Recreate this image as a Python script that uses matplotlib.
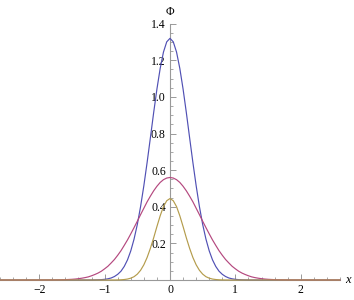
import numpy as np
import matplotlib
matplotlib.use("Agg")
import matplotlib.pyplot as plt
from matplotlib.ticker import MultipleLocator, FixedLocator

# values (right half, curves are symmetric about x = 0)
x_half = [0.0, 0.05, 0.10, 0.15, 0.20, 0.25, 0.30, 0.35, 0.40, 0.45, 0.50,
          0.55, 0.60, 0.65, 0.70, 0.75, 0.80, 0.85, 0.90, 0.95, 1.00,
          1.05, 1.10, 1.15, 1.20, 1.25, 1.30, 1.35, 1.40, 1.45, 1.50,
          1.60, 1.70, 1.80, 1.90, 2.00, 2.20, 2.40, 2.60]

phi_blue = [1.320, 1.301, 1.245, 1.156, 1.043, 0.914, 0.777, 0.642, 0.515, 0.401, 0.303,
            0.223, 0.159, 0.110, 0.074, 0.048, 0.031, 0.019, 0.011, 0.0065, 0.0037,
            0.002, 0.0011, 0.0005, 0.0003, 0.0, 0.0, 0.0, 0.0, 0.0, 0.0,
            0.0, 0.0, 0.0, 0.0, 0.0, 0.0, 0.0, 0.0]

phi_purple = [0.560, 0.557, 0.548, 0.533, 0.512, 0.487, 0.458, 0.427, 0.392, 0.357, 0.321,
              0.286, 0.252, 0.219, 0.189, 0.160, 0.135, 0.112, 0.093, 0.075, 0.061,
              0.048, 0.038, 0.030, 0.023, 0.017, 0.013, 0.0098, 0.0072, 0.0052, 0.0038,
              0.0019, 0.0009, 0.0004, 0.0002, 0.0001, 0.0, 0.0, 0.0]

phi_gold = [0.445, 0.433, 0.401, 0.351, 0.292, 0.230, 0.173, 0.123, 0.083, 0.053, 0.032,
            0.018, 0.010, 0.0052, 0.0026, 0.0012, 0.0005, 0.0002, 0.0001, 0.0, 0.0,
            0.0, 0.0, 0.0, 0.0, 0.0, 0.0, 0.0, 0.0, 0.0, 0.0,
            0.0, 0.0, 0.0, 0.0, 0.0, 0.0, 0.0, 0.0]

x_ticks = [-2, -1, 0, 1, 2]
y_ticks = [0.2, 0.4, 0.6, 0.8, 1.0, 1.2, 1.4]


def full(half):
    # mirror the right half onto the left
    h = np.asarray(half)
    return np.concatenate([h[:0:-1], h])


x = np.concatenate([-np.asarray(x_half)[:0:-1], np.asarray(x_half)])

plt.rcParams['font.family'] = ['Liberation Serif', 'DejaVu Serif']

fig = plt.figure(figsize=(3.54, 3.0), dpi=100)
ax = fig.add_axes([0.0, 20 / 300, 340 / 354, 256.3 / 300])

colors = ['#5050b4', '#b4487f', '#b49c4c']
for ys, c in zip([phi_blue, phi_purple, phi_gold], colors):
    ax.plot(x, full(ys), color=c, lw=0.85, clip_on=False, zorder=3)

ax.set_xlim(-2.6, 2.6)
ax.set_ylim(0, 1.4)

for s in ['top', 'right']:
    ax.spines[s].set_visible(False)
ax.spines['left'].set_position(('data', 0))
ax.spines['bottom'].set_position(('data', 0))
for s in ['left', 'bottom']:
    ax.spines[s].set_color('#999999')
    ax.spines[s].set_linewidth(0.8)
    ax.spines[s].set_zorder(2)

ax.xaxis.set_major_locator(FixedLocator(x_ticks))
ax.xaxis.set_minor_locator(MultipleLocator(0.2))
ax.yaxis.set_major_locator(FixedLocator(y_ticks))
ax.yaxis.set_minor_locator(MultipleLocator(0.05))
ax.set_xticklabels([f"{t}".replace('-', '\u2212') for t in x_ticks])
ax.set_yticklabels([f"{t:.1f}" for t in y_ticks])

ax.tick_params(which='major', direction='in', length=4, width=0.7,
               color='#999999', labelsize=8.5, labelcolor='black', pad=3)
ax.tick_params(which='minor', direction='in', length=2.2, width=0.6,
               color='#999999')

ax.patch.set_visible(False)

ax.text(2.72, 0.0, 'x', style='italic', fontsize=9, ha='center', va='center',
        transform=ax.transData, clip_on=False)
ax.text(0.0, 1.465, '\u03a6', fontsize=8.5, ha='center', va='center',
        transform=ax.transData, clip_on=False)

fig.savefig('out.png', dpi=100)
